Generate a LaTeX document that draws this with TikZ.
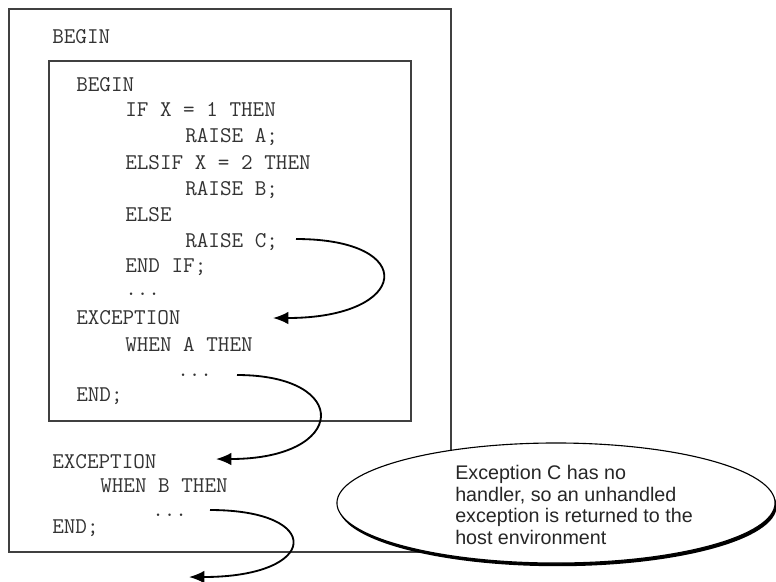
\documentclass[tikz,border=0pt]{standalone}
\usepackage{fontspec}
\setsansfont{Liberation Sans}
\usetikzlibrary{arrows.meta}
\usetikzlibrary{shapes.geometric}
\usetikzlibrary{shadows}
\tikzset{code/.style = {anchor=base west, inner sep=0pt, text=black!80,
                        font=\fontsize{16}{18}\selectfont\ttfamily}}
\tikzset{dots/.style = {code, text height=2pt, text depth=0pt}}
\tikzset{frame/.style = {draw=black!75, line width=0.8pt}}
\tikzset{jump/.style = {line width=1.3pt, -{Latex[length=11pt, width=9pt]}}}
\tikzset{callout/.style = {ellipse, draw, fill=white, line width=0.8pt,
                           minimum width=10.95cm, minimum height=3cm, inner sep=0pt,
                           drop shadow={opacity=1, fill=black,
                                        shadow xshift=0.04cm, shadow yshift=-0.08cm}}}
\tikzset{notetext/.style = {anchor=north west, inner sep=0pt, align=left,
                            font=\fontsize{14}{15.3}\selectfont\sffamily, text=black!85}}

\begin{document}
\begin{tikzpicture}[x=0.025cm, y=-0.025cm]
    \useasboundingbox (0,0) rectangle (776,581);

    % blocks
    \draw [frame] (9,9) rectangle (451,552);
    \draw [frame] (49,61) rectangle (411,421);

    % outer block
    \node [code] (obegin) at (52,43) {BEGIN};
    \node [code] (oexc) at (52,468) {EXCEPTION};
    \node [code] (whenb) at (100,492) {WHEN B THEN};
    \node [dots] (dotsb) at (152,516) {...};
    \node [code] (oend) at (52,533) {END;};

    % inner block
    \node [code] (ibegin) at (76,91) {BEGIN};
    \node [code] (ifx) at (125,116) {IF X = 1 THEN};
    \node [code] (raisea) at (185,142) {RAISE A;};
    \node [code] (elsif) at (125,169) {ELSIF X = 2 THEN};
    \node [code] (raiseb) at (185,195) {RAISE B;};
    \node [code] (else) at (125,221) {ELSE};
    \node [code] (raisec) at (185,247) {RAISE C;};
    \node [code] (endif) at (125,272) {END IF;};
    \node [dots] (dotsi) at (125,295) {...};
    \node [code] (iexc) at (76,324) {EXCEPTION};
    \node [code] (whena) at (125,351) {WHEN A THEN};
    \node [dots] (dotsa) at (177,376) {...};
    \node [code] (iend) at (76,401) {END;};

    % propagation
    \coordinate (c-from) at (296,239);
    \coordinate (c-to) at (273,318);
    \coordinate (a-from) at (237,375);
    \coordinate (a-to) at (216,459);
    \coordinate (b-from) at (210,510);
    \coordinate (b-to) at (189,577);
    \draw [jump] (c-from) .. controls (420,239) and (410,318) .. (c-to);
    \draw [jump] (a-from) .. controls (352,375) and (348,459) .. (a-to);
    \draw [jump] (b-from) .. controls (325,510) and (320,577) .. (b-to);

    % note
    \node [callout] (note) at (556,503) {};
    \node [notetext] (notetxt) at (455,465) {Exception C has no\\handler, so an unhandled\\exception is returned to the\\host environment};
\end{tikzpicture}
\end{document}
